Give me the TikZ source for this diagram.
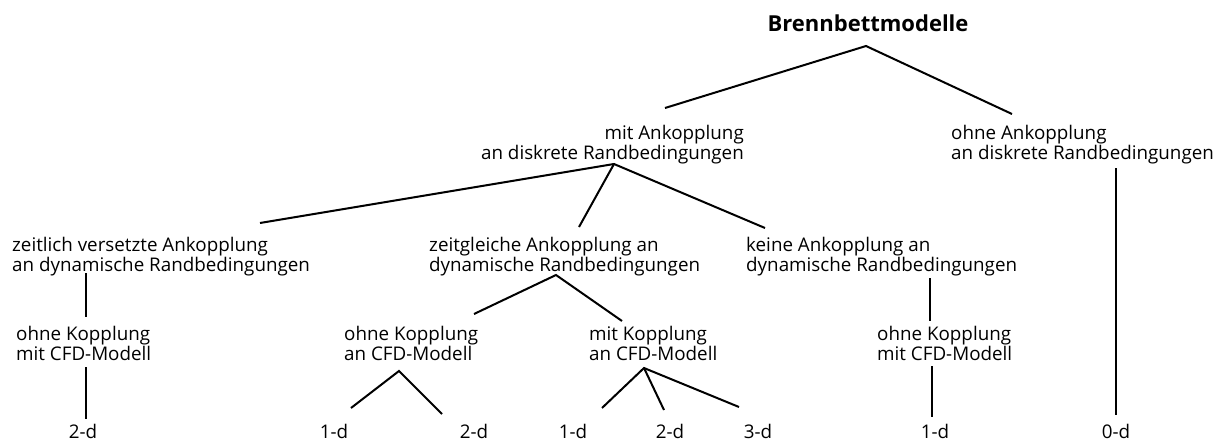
\documentclass[tikz,border=0pt]{standalone}
\usepackage{fontspec}
\setmainfont{Open Sans}
\begin{document}
\begin{tikzpicture}[x=1pt,y=-1pt,
  lbl/.style={inner sep=0pt, font=\fontsize{18.8}{20}\selectfont},
  lleft/.style={lbl, align=left, anchor=north west},
  lright/.style={lbl, align=right, anchor=north east},
  dim/.style={lbl, anchor=base},
  headline/.style={inner sep=0pt, anchor=base, font=\fontsize{22}{24}\selectfont\bfseries},
  edge/.style={line width=2pt},
  vedge/.style={line width=2.9pt}]
\useasboundingbox[fill=white] (0,0) rectangle (1224,442);

% root
\node[headline] (root) at (868,31) {Brennbettmodelle};

% first level
\node[lright] (mit) at (744,125) {mit Ankopplung\\an diskrete Randbedingungen};
\node[lleft] (ohne) at (951,125) {ohne Ankopplung\\an diskrete Randbedingungen};

% second level
\node[lleft] (versetzt) at (12,237) {zeitlich versetzte Ankopplung\\an dynamische Randbedingungen};
\node[lleft] (gleich) at (429,237) {zeitgleiche Ankopplung an\\dynamische Randbedingungen};
\node[lleft] (keine) at (746,237) {keine Ankopplung an\\dynamische Randbedingungen};

% third level
\node[lleft] (vo) at (16,326) {ohne Kopplung\\mit CFD-Modell};
\node[lleft] (go) at (344,326) {ohne Kopplung\\an CFD-Modell};
\node[lleft] (gm) at (589,326) {mit Kopplung\\an CFD-Modell};
\node[lleft] (ko) at (877,326) {ohne Kopplung\\mit CFD-Modell};

% dimensions
\node[dim] (vo2) at (83,438) {2-d};
\node[dim] (go1) at (334,438) {1-d};
\node[dim] (go2) at (474,438) {2-d};
\node[dim] (gm1) at (573,438) {1-d};
\node[dim] (gm2) at (670,438) {2-d};
\node[dim] (gm3) at (758,438) {3-d};
\node[dim] (ko1) at (935,438) {1-d};
\node[dim] (oh0) at (1116,438) {0-d};

% junction points below the parents and end points above the children
\coordinate (root-j) at (866,46);
\coordinate (mit-in) at (665,108);
\coordinate (ohne-in) at (1012,114);
\coordinate (mit-j) at (614,164);
\coordinate (versetzt-in) at (260,223);
\coordinate (gleich-in) at (579,227);
\coordinate (keine-in) at (765,228);
\coordinate (versetzt-j) at (86,273);
\coordinate (vo-in) at (86,317);
\coordinate (gleich-j) at (556,275);
\coordinate (go-in) at (474,314);
\coordinate (gm-in) at (622,321);
\coordinate (keine-j) at (930,278);
\coordinate (ko-in) at (930,321);
\coordinate (ohne-j) at (1116,168);
\coordinate (oh0-in) at (1116,415);
\coordinate (vo-j) at (86,367);
\coordinate (vo2-in) at (86,419);
\coordinate (go-j) at (399,371);
\coordinate (go1-in) at (351,408);
\coordinate (go2-in) at (442,414);
\coordinate (gm-j) at (644,368);
\coordinate (gm1-in) at (602,408);
\coordinate (gm2-in) at (664,410);
\coordinate (gm3-in) at (739,407);
\coordinate (ko-j) at (932,366);
\coordinate (ko1-in) at (932,417);

% connectors
\draw[edge] (mit-in) -- (root-j) -- (ohne-in);
\draw[edge] (versetzt-in) -- (mit-j) -- (keine-in);
\draw[edge] (mit-j) -- (gleich-in);
\draw[edge] (go-in) -- (gleich-j) -- (gm-in);
\draw[edge] (go1-in) -- (go-j) -- (go2-in);
\draw[edge] (gm1-in) -- (gm-j) -- (gm3-in);
\draw[edge] (gm-j) -- (gm2-in);
\draw[vedge] (versetzt-j) -- (vo-in);
\draw[vedge] (vo-j) -- (vo2-in);
\draw[vedge] (keine-j) -- (ko-in);
\draw[vedge] (ko-j) -- (ko1-in);
\draw[vedge] (ohne-j) -- (oh0-in);
\end{tikzpicture}
\end{document}
